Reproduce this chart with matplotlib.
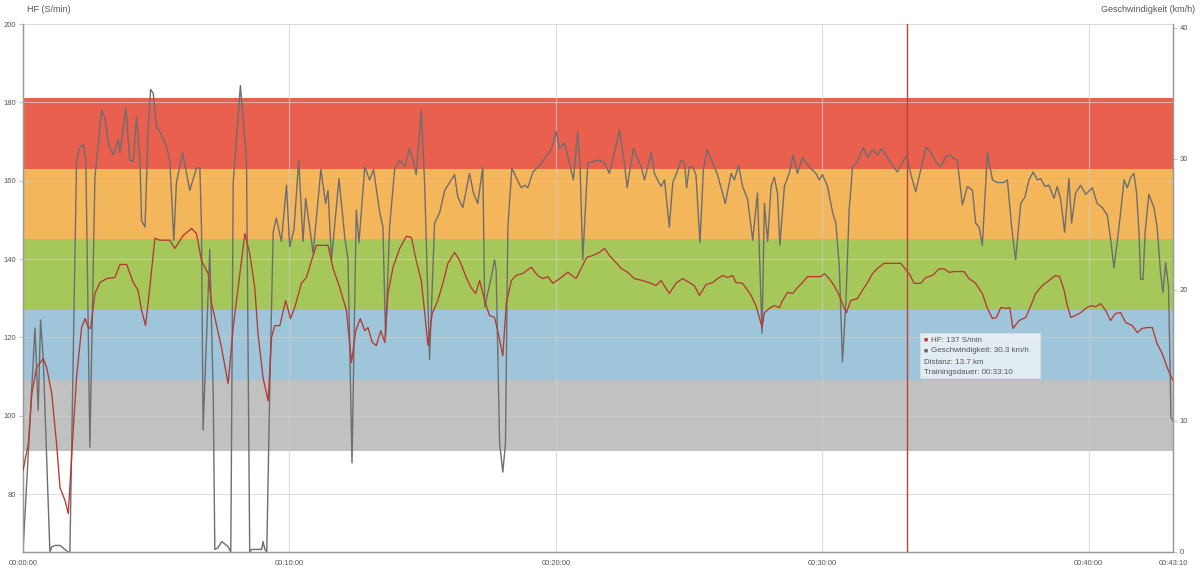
import matplotlib
matplotlib.use("Agg")
import matplotlib.pyplot as plt
from matplotlib.patches import Rectangle
from matplotlib.transforms import blended_transform_factory

plt.rcParams['font.family'] = ['Liberation Sans', 'DejaVu Sans']

# heart rate zones (S/min): boundaries and colours from bottom to top
zone_bounds = [91, 109, 127, 145, 163, 181]
zone_colors = ['#c1c1c1', '#9fc5da', '#a6c85b', '#f3b65b', '#e9604f']

# time in minutes, heart rate in S/min
hf_t = [0.00, 0.20, 0.33, 0.51, 0.76, 0.89, 1.08, 1.26, 1.39, 1.58, 1.70, 1.89, 2.01, 2.20, 2.33,
        2.45, 2.54, 2.70, 2.89, 3.14, 3.45, 3.64, 3.89, 4.14, 4.32, 4.45, 4.60, 4.76, 4.95, 5.14,
        5.51, 5.70, 6.01, 6.33, 6.51, 6.70, 6.95, 7.08, 7.20, 7.45, 7.70, 7.89, 8.14, 8.33, 8.51,
        8.70, 8.82, 9.01, 9.20, 9.33, 9.45, 9.64, 9.86, 10.04, 10.20, 10.45, 10.64, 10.83, 11.01,
        11.45, 11.64, 11.89, 12.14, 12.26, 12.33, 12.49, 12.66, 12.83, 12.95, 13.11, 13.26, 13.43,
        13.58, 13.70, 13.89, 14.14, 14.39, 14.58, 14.76, 14.95, 15.08, 15.20, 15.36, 15.57, 15.76,
        15.95, 16.20, 16.39, 16.64, 16.82, 16.99, 17.14, 17.33, 17.51, 17.70, 17.82, 18.01, 18.14,
        18.33, 18.51, 18.76, 19.08, 19.32, 19.51, 19.70, 19.89, 20.14, 20.45, 20.76, 20.95, 21.16,
        21.39, 21.64, 21.83, 22.01, 22.26, 22.45, 22.70, 22.95, 23.26, 23.58, 23.76, 23.95, 24.26,
        24.51, 24.76, 25.01, 25.20, 25.39, 25.64, 25.89, 26.07, 26.26, 26.45, 26.64, 26.76, 27.01,
        27.20, 27.33, 27.51, 27.64, 27.74, 27.83, 28.01, 28.20, 28.39, 28.51, 28.70, 28.89, 29.07,
        29.26, 29.45, 29.76, 29.95, 30.08, 30.26, 30.45, 30.64, 30.83, 30.91, 31.07, 31.32, 31.51,
        31.70, 31.89, 32.07, 32.32, 32.57, 32.95, 33.17, 33.26, 33.45, 33.70, 33.89, 34.14, 34.39,
        34.58, 34.76, 34.95, 35.32, 35.51, 35.76, 36.01, 36.20, 36.39, 36.54, 36.70, 36.89, 37.04,
        37.16, 37.39, 37.64, 37.83, 38.01, 38.26, 38.51, 38.76, 38.91, 39.08, 39.20, 39.33, 39.51,
        39.70, 39.89, 40.08, 40.26, 40.45, 40.64, 40.82, 41.01, 41.20, 41.39, 41.64, 41.83, 42.01,
        42.20, 42.39, 42.57, 42.76, 42.95, 43.08, 43.17]
hf = [86.0, 92.8, 105.6, 112.3, 114.6, 112.3, 105.6, 92.8, 81.6, 78.3, 75.0, 96.9, 109.7, 122.5, 124.8,
      122.5, 122.3, 131.2, 134.0, 135.0, 135.3, 138.6, 138.6, 134.0, 132.0, 126.9, 123.0, 132.7, 145.3, 144.8,
      144.8, 142.7, 146.0, 147.8, 146.5, 139.6, 136.3, 128.6, 125.1, 117.4, 108.2, 122.5, 136.3, 146.5, 141.4,
      132.7, 121.0, 109.7, 103.8, 120.0, 123.0, 123.0, 129.4, 124.8, 127.6, 133.8, 135.3, 139.6, 143.5,
      143.5, 137.6, 132.7, 126.9, 118.4, 113.6, 121.7, 124.8, 121.7, 122.5, 118.7, 117.9, 121.7,
      118.7, 131.2, 137.9, 142.7, 145.8, 145.5, 139.6, 134.5, 126.1, 117.9, 126.1, 129.4, 133.8,
      138.9, 141.7, 139.6, 135.3, 132.7, 131.2, 134.5, 129.4, 125.6, 125.1, 121.7, 115.3, 128.6,
      134.5, 135.8, 136.3, 137.9, 135.8, 135.0, 135.5, 133.8, 135.0, 136.6, 135.0, 137.6, 140.4,
      140.9, 141.7, 142.7, 140.9, 139.1, 137.6, 136.6, 135.0, 134.5, 133.8, 133.2, 134.5, 131.2,
      133.8, 135.0, 134.0, 133.2, 130.7, 133.5, 134.0, 135.0, 135.8, 135.3, 135.8, 134.0, 133.8,
      132.0, 130.7, 128.1, 125.1, 122.5, 126.3, 127.4, 128.1, 127.6, 129.4, 131.5, 131.2, 132.7,
      134.0, 135.5, 135.5, 135.5, 136.3, 135.0, 133.2, 130.7, 127.4, 126.3, 129.4, 129.9, 132.0,
      134.0, 136.3, 137.6, 138.9, 138.9, 138.9, 137.0, 136.3, 133.8, 133.8, 135.3, 135.8, 137.5,
      137.5, 136.6, 136.8, 136.8, 135.0, 133.8, 131.2, 127.4, 124.8, 125.1, 127.6, 127.4, 127.6,
      122.3, 124.3, 125.1, 128.1, 131.2, 133.2, 134.5, 135.8, 135.5, 132.0, 128.1, 125.1, 125.6,
      126.3, 127.4, 128.1, 127.8, 128.6, 126.9, 124.3, 126.1, 126.3, 123.8, 123.0, 121.2, 122.3,
      122.5, 122.5, 118.4, 115.9, 112.3, 110.2, 109.0]

# time in minutes, speed in km/h
v_t = [0.00, 0.45, 0.57, 0.66, 0.76, 1.01, 1.08, 1.20, 1.39, 1.51, 1.69, 1.76, 2.01, 2.11, 2.26,
       2.36, 2.51, 2.70, 2.95, 3.08, 3.20, 3.39, 3.57, 3.64, 3.86, 4.01, 4.14, 4.26, 4.39, 4.45,
       4.58, 4.70, 4.79, 4.89, 5.01, 5.14, 5.39, 5.51, 5.66, 5.76, 5.99, 6.26, 6.51, 6.64, 6.70,
       6.76, 7.01, 7.14, 7.20, 7.31, 7.46, 7.70, 7.80, 7.89, 8.16, 8.39, 8.51, 8.59, 8.96, 9.01,
       9.08, 9.15, 9.26, 9.39, 9.51, 9.70, 9.89, 10.01, 10.17, 10.35, 10.51, 10.61, 10.76, 10.89,
       11.18, 11.36, 11.45, 11.58, 11.86, 12.08, 12.20, 12.35, 12.51, 12.61, 12.83, 13.01, 13.16,
       13.39, 13.51, 13.61, 13.76, 13.95, 14.14, 14.33, 14.51, 14.64, 14.76, 14.95, 15.08, 15.26,
       15.45, 15.64, 15.83, 16.01, 16.20, 16.32, 16.51, 16.76, 16.91, 17.07, 17.26, 17.33, 17.45,
       17.58, 17.70, 17.76, 17.89, 18.01, 18.11, 18.20, 18.35, 18.51, 18.70, 18.83, 18.95, 19.14,
       19.39, 19.64, 19.83, 20.01, 20.14, 20.33, 20.45, 20.66, 20.82, 20.91, 21.01, 21.20, 21.39,
       21.64, 21.83, 22.01, 22.20, 22.39, 22.54, 22.68, 22.76, 22.92, 23.11, 23.20, 23.33, 23.58,
       23.70, 23.82, 23.95, 24.08, 24.26, 24.39, 24.51, 24.70, 24.83, 24.91, 25.01, 25.14, 25.26,
       25.41, 25.54, 25.68, 25.89, 26.07, 26.36, 26.58, 26.70, 26.86, 27.01, 27.20, 27.39, 27.57,
       27.74, 27.83, 27.95, 28.08, 28.20, 28.32, 28.41, 28.58, 28.76, 28.91, 29.07, 29.26, 29.51,
       29.76, 29.89, 30.01, 30.20, 30.39, 30.51, 30.64, 30.76, 30.89, 31.01, 31.14, 31.32, 31.54,
       31.70, 31.89, 32.07, 32.24, 32.45, 32.64, 32.82, 33.01, 33.17, 33.33, 33.51, 33.70, 33.89,
       34.08, 34.26, 34.45, 34.64, 34.83, 34.95, 35.07, 35.26, 35.45, 35.64, 35.76, 35.89, 36.01,
       36.20, 36.39, 36.57, 36.82, 36.95, 37.11, 37.26, 37.45, 37.61, 37.76, 37.92, 38.07, 38.20,
       38.36, 38.51, 38.70, 38.82, 38.95, 39.10, 39.26, 39.36, 39.51, 39.70, 39.89, 40.14, 40.32,
       40.51, 40.70, 40.83, 40.95, 41.07, 41.20, 41.33, 41.45, 41.58, 41.70, 41.80, 41.89, 41.95,
       42.04, 42.12, 42.26, 42.45, 42.57, 42.70, 42.79, 42.89, 43.00, 43.09, 43.17]
speed = [0.0, 17.1, 10.8, 17.7, 14.7, 0.0, 0.4, 0.5, 0.5, 0.3, 0.0, 0.0, 29.9, 30.8, 31.1,
         29.9, 8.0, 28.6, 33.7, 33.1, 31.2, 30.3, 31.5, 30.5, 33.9, 29.9, 29.8, 33.2, 29.9, 25.3,
         24.8, 32.4, 35.3, 35.0, 32.4, 32.1, 30.9, 29.9, 23.8, 28.2, 30.5, 27.6, 29.3, 29.3, 24.8,
         9.3, 23.1, 12.1, 0.2, 0.3, 0.8, 0.4, 0.0, 28.2, 35.6, 29.9, 0.0, 0.2, 0.2, 0.8,
         0.2, 0.0, 12.1, 24.4, 25.5, 23.7, 28.0, 23.3, 24.6, 29.9, 23.7, 27.0, 24.8, 22.8,
         29.2, 26.6, 27.6, 22.3, 28.5, 24.0, 22.3, 6.8, 26.1, 23.6, 29.4, 28.4, 29.2,
         25.9, 24.8, 16.4, 24.8, 29.2, 29.9, 29.4, 30.8, 29.9, 28.8, 33.7, 27.9, 14.7,
         25.1, 25.9, 27.6, 28.2, 28.8, 27.1, 26.3, 28.9, 27.4, 26.6, 29.4, 18.7, 19.8,
         21.0, 22.3, 21.5, 8.3, 6.1, 8.3, 24.8, 29.3, 28.6, 27.8, 28.0, 27.8, 29.0,
         29.5, 30.2, 30.7, 32.1, 30.8, 31.2, 30.2, 28.4, 32.1, 29.4, 22.3, 29.7, 29.8,
         29.9, 29.7, 28.9, 30.5, 32.2, 30.2, 27.8, 28.9, 30.8, 29.8, 29.4, 28.4, 30.5,
         28.9, 28.4, 27.9, 28.4, 24.8, 28.2, 28.8, 29.9, 29.7, 27.8, 29.4, 29.4, 28.8,
         23.6, 29.2, 30.7, 29.7, 28.8, 26.6, 28.9, 28.4, 29.5, 27.9, 26.9, 23.8, 27.4,
         16.7, 26.6, 23.7, 27.9, 28.6, 27.4, 23.4, 27.9, 28.9, 30.3, 28.9, 30.1, 29.4,
         28.9, 28.4, 28.8, 27.9, 25.9, 25.1, 21.8, 14.5, 19.2, 26.1, 29.4, 29.8, 30.9,
         30.1, 30.7, 30.3, 30.8, 30.1, 29.5, 29.0, 29.7, 30.3, 28.8, 27.5, 29.2, 30.9,
         30.5, 29.8, 29.4, 30.2, 30.3, 30.0, 29.9, 26.5, 27.9, 27.6, 25.1, 24.8, 23.4,
         30.5, 28.4, 28.2, 28.2, 28.4, 24.8, 22.3, 26.6, 27.1, 28.4, 29.0, 28.4, 28.5,
         27.9, 28.0, 27.0, 27.9, 26.9, 24.4, 28.5, 25.1, 27.4, 28.0, 27.3, 27.8, 26.6,
         26.3, 25.7, 23.8, 21.7, 23.6, 25.9, 28.4, 27.8, 28.6, 28.9, 27.4, 24.4, 20.8,
         20.8, 24.4, 27.3, 26.3, 24.8, 21.3, 19.8, 22.1, 20.2, 10.3, 10.0]

x_ticks = [0, 10, 20, 30, 40, 43 + 10 / 60]
x_labels = ['00:00:00', '00:10:00', '00:20:00', '00:30:00', '00:40:00', '00:43:10']
hf_ticks = [80, 100, 120, 140, 160, 180, 200]
v_ticks = [0, 10, 20, 30, 40]

cursor_t = 33 + 10 / 60
tooltip = ['HF: 137 S/min', 'Geschwindigkeit: 30.3 km/h', 'Distanz: 13.7 km', 'Trainingsdauer: 00:33:10']

txt = '#555555'
grid_c = '#cfcfcf'

fig = plt.figure(figsize=(12, 5.71), dpi=100)
# ax2 (speed) sits at the back with the bands, ax (HF) is the twin drawn on top
ax2 = fig.add_axes([23 / 1200, 19 / 571, 1150 / 1200, 528 / 571])
ax = ax2.twinx()
ax.yaxis.tick_left()
ax2.yaxis.tick_right()

ax2.set_xlim(0, x_ticks[-1])
ax.set_ylim(65.2, 200)
ax2.set_ylim(0, 40.3)

# zone bands and horizontal grid are in HF units, but must lie under the speed line
hf_band = blended_transform_factory(ax2.transAxes, ax.transData)
for lo, hi, c in zip(zone_bounds[:-1], zone_bounds[1:], zone_colors):
    ax2.add_patch(Rectangle((0, lo), 1, hi - lo, color=c, lw=0, zorder=0, transform=hf_band))
for h in hf_ticks:
    ax2.plot([0, 1], [h, h], color=grid_c, lw=0.8, alpha=0.7, zorder=1, transform=hf_band)
for t in x_ticks[1:-1]:
    ax2.axvline(t, color=grid_c, lw=0.8, alpha=0.7, zorder=1)

ax2.plot(v_t, speed, color='#6e6e6e', lw=1.0, zorder=2)
ax.plot(hf_t, hf, color='#b43a33', lw=0.95, zorder=3)
ax.axvline(cursor_t, color='#b5453f', lw=1.0, zorder=4)

ax2.set_xticks(x_ticks)
ax2.set_xticklabels(x_labels)
ax.set_yticks(hf_ticks)
ax2.set_yticks(v_ticks)

ax2.tick_params(axis='x', length=0, pad=6, labelsize=5.5, labelcolor=txt)
for a in (ax, ax2):
    a.tick_params(axis='y', length=3, width=0.6, color='#bbbbbb', pad=2, labelsize=5.5, labelcolor=txt)
    a.spines['top'].set_visible(False)
    for s in ('left', 'right', 'bottom'):
        a.spines[s].set_color('#999999')
        a.spines[s].set_linewidth(0.9)

fig.text(27 / 1200, 1 - 10 / 571, 'HF (S/min)', fontsize=6.5, color=txt, va='center', ha='left')
fig.text(1195 / 1200, 1 - 10 / 571, 'Geschwindigkeit (km/h)', fontsize=6.5, color=txt, va='center', ha='right')

# tooltip box at the cursor
x0, x1 = (920 - 23) / 1150, (1040 - 23) / 1150
y0, y1 = (552 - 378) / 528, (552 - 333) / 528
ax.add_patch(Rectangle((x0, y0), x1 - x0, y1 - y0, transform=ax.transAxes,
                       facecolor='white', alpha=0.7, edgecolor='#dddddd', lw=0.6, zorder=5))
line_y = [(552 - y) / 528 for y in (340, 351, 362, 373)]
sq_colors = ['#b43a33', '#666666', None, None]
for label, yy, sc in zip(tooltip, line_y, sq_colors):
    tx = (924 - 23) / 1150
    if sc is not None:
        ax.text(tx, yy, '■', fontsize=5, color=sc, transform=ax.transAxes, va='center', ha='left', zorder=6)
        tx = (931 - 23) / 1150
    ax.text(tx, yy, label, fontsize=5.8, color=txt, transform=ax.transAxes, va='center', ha='left', zorder=6)

fig.savefig('out.png', dpi=100)
